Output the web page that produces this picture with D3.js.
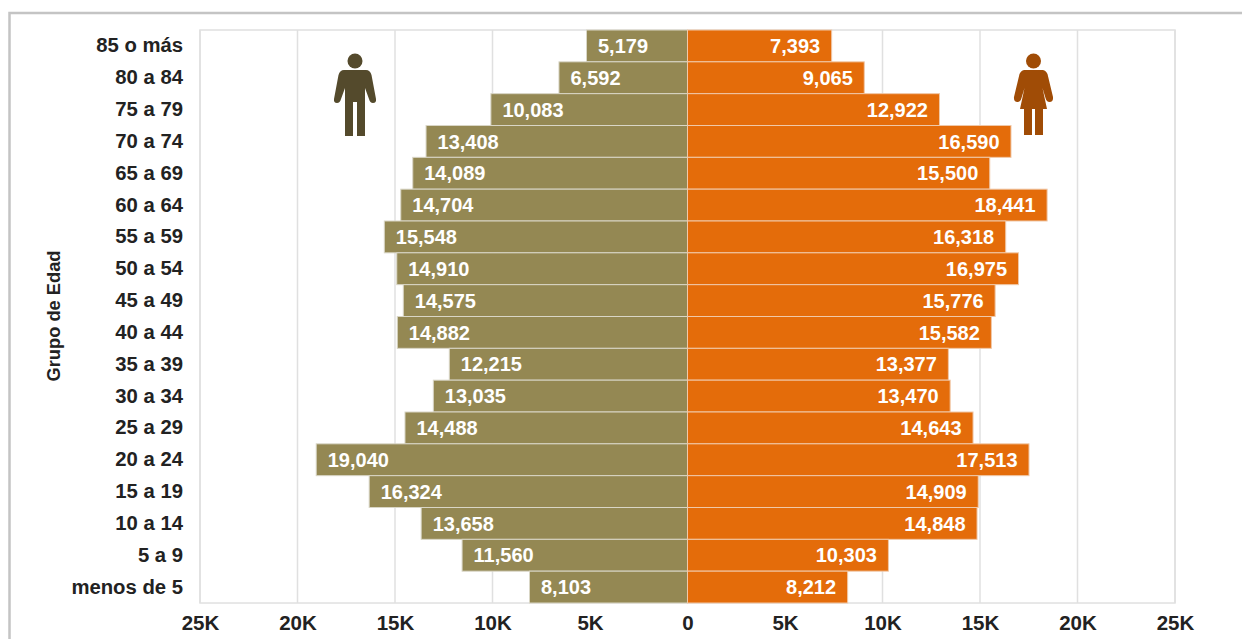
<!DOCTYPE html>
<html lang="es">
<head>
<meta charset="utf-8">
<title>Piramide de poblacion</title>
<script src="https://cdn.jsdelivr.net/npm/d3@7/dist/d3.min.js"></script>
<style>
  html, body { margin: 0; padding: 0; background: #fff; }
  svg { display: block; font-family: "Liberation Sans", Arial, sans-serif; }
  .axis text { font-weight: bold; fill: #222; }
  .axis path, .axis line { display: none; }
</style>
</head>
<body>
<script>
var ageGroups = ["85 o más", "80 a 84", "75 a 79", "70 a 74", "65 a 69", "60 a 64", "55 a 59", "50 a 54", "45 a 49",
                 "40 a 44", "35 a 39", "30 a 34", "25 a 29", "20 a 24", "15 a 19", "10 a 14", "5 a 9", "menos de 5"];
var men = [5179, 6592, 10083, 13408, 14089, 14704, 15548, 14910, 14575,
           14882, 12215, 13035, 14488, 19040, 16324, 13658, 11560, 8103];
var women = [7393, 9065, 12922, 16590, 15500, 18441, 16318, 16975, 15776,
             15582, 13377, 13470, 14643, 17513, 14909, 14848, 10303, 8212];
var xTicks = [-25000, -20000, -15000, -10000, -5000, 0, 5000, 10000, 15000, 20000, 25000];

var w = 1242, h = 639;
var left = 200, right = 1175, top_ = 30, bottom = 603;

var svg = d3.select("body").append("svg").attr("width", w).attr("height", h);

// frame of the screenshot
svg.append("path")
   .attr("d", "M9.5,639V13H1242")
   .attr("fill", "none").attr("stroke", "#c4c4c4").attr("stroke-width", 2.5);

var xScale = d3.scaleLinear().domain([-25000, 25000]).range([left, right]);
var yScale = d3.scaleBand().domain(ageGroups).range([top_, bottom]);

// plot border and grid
svg.append("rect")
   .attr("x", left).attr("y", top_)
   .attr("width", right - left).attr("height", bottom - top_)
   .attr("fill", "none").attr("stroke", "#e0e0e0").attr("stroke-width", 1.5);

svg.selectAll("line.grid").data(xTicks).enter().append("line")
   .attr("class", "grid")
   .attr("x1", function(d) { return xScale(d); })
   .attr("x2", function(d) { return xScale(d); })
   .attr("y1", top_).attr("y2", bottom)
   .attr("stroke", "#e0e0e0").attr("stroke-width", 1.5);

// bars
svg.selectAll("rect.men").data(men).enter().append("rect")
   .attr("class", "men")
   .attr("x", function(d) { return xScale(-d); })
   .attr("y", function(d, i) { return yScale(ageGroups[i]); })
   .attr("width", function(d) { return xScale(0) - xScale(-d); })
   .attr("height", yScale.bandwidth())
   .attr("fill", "#948853").attr("stroke", "#d9d6c6").attr("stroke-width", 1);

svg.selectAll("rect.women").data(women).enter().append("rect")
   .attr("class", "women")
   .attr("x", xScale(0))
   .attr("y", function(d, i) { return yScale(ageGroups[i]); })
   .attr("width", function(d) { return xScale(d) - xScale(0); })
   .attr("height", yScale.bandwidth())
   .attr("fill", "#e46c0a").attr("stroke", "#f0c8a8").attr("stroke-width", 1);

// value labels
var fmt = d3.format(",");
svg.selectAll("text.menval").data(men).enter().append("text")
   .attr("class", "menval")
   .attr("x", function(d) { return xScale(-d) + 11.5; })
   .attr("y", function(d, i) { return yScale(ageGroups[i]) + yScale.bandwidth() / 2; })
   .attr("dy", "0.36em")
   .attr("font-size", "20px").attr("font-weight", "bold").attr("fill", "#fff")
   .text(function(d) { return fmt(d); });

svg.selectAll("text.womenval").data(women).enter().append("text")
   .attr("class", "womenval")
   .attr("x", function(d) { return xScale(d) - 11.5; })
   .attr("y", function(d, i) { return yScale(ageGroups[i]) + yScale.bandwidth() / 2; })
   .attr("dy", "0.36em")
   .attr("text-anchor", "end")
   .attr("font-size", "20px").attr("font-weight", "bold").attr("fill", "#fff")
   .text(function(d) { return fmt(d); });

// axes
var xAxis = d3.axisBottom(xScale).tickValues(xTicks).tickSize(0).tickPadding(12)
   .tickFormat(function(d) { return d === 0 ? "0" : Math.abs(d) / 1000 + "K"; });
var gX = svg.append("g").attr("class", "x axis")
   .attr("transform", "translate(0," + bottom + ")").call(xAxis);
gX.selectAll("text").attr("font-size", "20.5px").attr("font-family", "Liberation Sans");

var yAxis = d3.axisLeft(yScale).tickSize(0).tickPadding(17);
var gY = svg.append("g").attr("class", "y axis")
   .attr("transform", "translate(" + left + ",0)").call(yAxis);
gY.selectAll("text").attr("font-size", "20.3px").attr("font-family", "Liberation Sans");

svg.append("text")
   .attr("transform", "translate(60,316) rotate(-90)")
   .attr("text-anchor", "middle")
   .attr("font-size", "18.3px").attr("font-weight", "bold").attr("fill", "#222")
   .text("Grupo de Edad");

// man icon
var man = svg.append("g").attr("transform", "translate(355,0)").attr("fill", "#544a2c");
man.append("circle").attr("cx", 0).attr("cy", 61).attr("r", 7.5);
man.append("path").attr("d",
  "M-11,70 H11 Q15,70 16.5,75 L21,99 Q21.5,103 18,103 Q15,103 14,99 L10,88 V136 H2 V102 H-2 V136 H-10 V88 " +
  "L-14,99 Q-15,103 -18,103 Q-21.5,103 -21,99 L-16.5,75 Q-15,70 -11,70 Z");

// woman icon
var woman = svg.append("g").attr("transform", "translate(1033.5,0)").attr("fill", "#a04c06");
woman.append("circle").attr("cx", 0).attr("cy", 61).attr("r", 7.5);
woman.append("path").attr("d",
  "M-9,70 H9 Q12,70 14,74 L19.5,97 Q20,102 16,102 Q13,102 12,98 L9,88 L13.5,109 H9.5 V135 H1.5 V109 H-1.5 V135 H-9.5 V109 H-13.5 " +
  "L-9,88 L-12,98 Q-13,102 -16,102 Q-20,102 -19.5,97 L-14,74 Q-12,70 -9,70 Z");
</script>
</body>
</html>
